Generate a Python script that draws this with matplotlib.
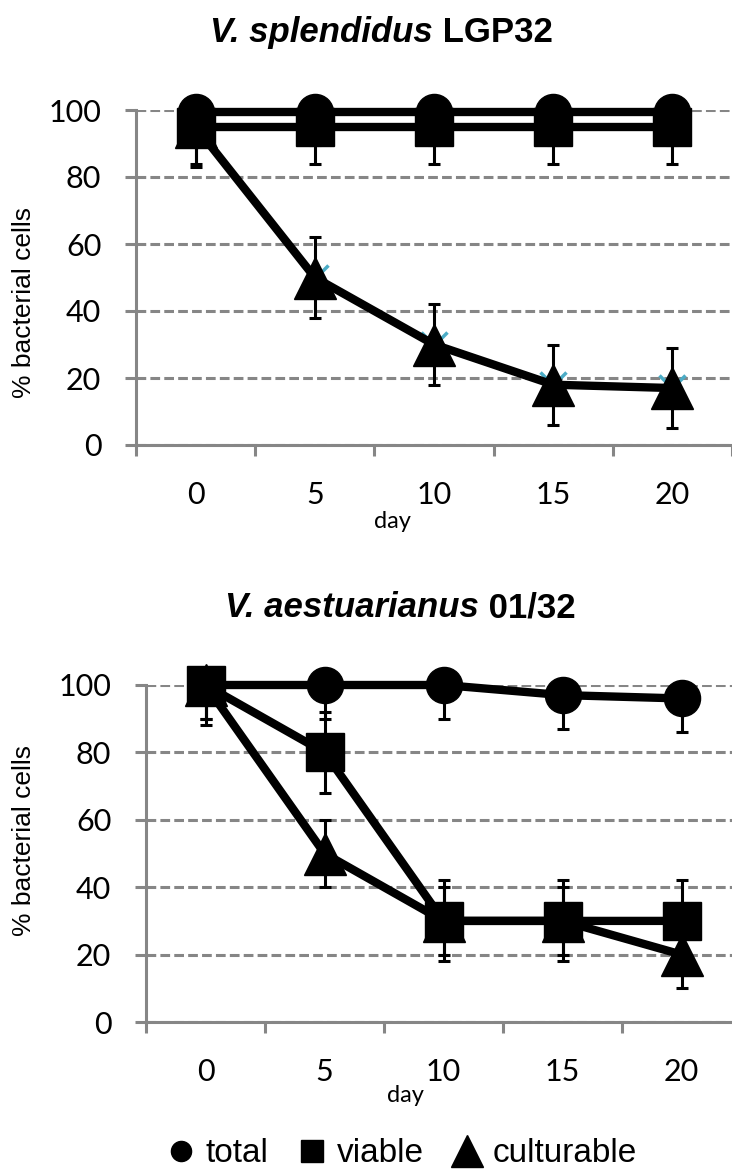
import numpy as np
import matplotlib
matplotlib.use("Agg")
import matplotlib.pyplot as plt
from matplotlib.lines import Line2D

# ---------------- data ----------------
days = ["0", "5", "10", "15", "20"]

# V. splendidus LGP32
spl_total = [99.5, 99.5, 99.5, 99.5, 99.5]
spl_total_err = [10, 10, 10, 10, 10]
spl_viable = [95, 95, 95, 95, 95]
spl_viable_err = [11, 11, 11, 11, 11]
spl_cult = [95, 50, 30, 18, 17]
spl_cult_err = [12, 12, 12, 12, 12]
spl_hidden = [95, 50, 30, 18, 17]   # teal series peeking behind triangles

# V. aestuarianus 01/32
aes_total = [100, 100, 100, 97, 96]
aes_total_err = [10, 10, 10, 10, 10]
aes_viable = [100, 80, 30, 30, 30]
aes_viable_err = [12, 12, 12, 12, 12]
aes_cult = [100, 50, 30, 30, 20]
aes_cult_err = [10, 10, 10, 10, 10]

series_labels = ["total", "viable", "culturable"]
yticks = [0, 20, 40, 60, 80, 100]

# ---------------- figure ----------------
plt.rcParams["font.family"] = ["Liberation Sans", "DejaVu Sans"]
plt.rcParams["lines.scale_dashes"] = False

W, H = 732, 1174
fig = plt.figure(figsize=(W / 100, H / 100), dpi=100)
fig.patch.set_facecolor("white")

GRAY = "#868686"
TEAL = "#4BACC6"


def px_axes(left, top, right, bottom):
    return fig.add_axes([left / W, 1 - bottom / H, (right - left) / W, (bottom - top) / H])


def style(ax):
    ax.set_xlim(-0.5, len(days) - 0.5)
    ax.set_ylim(0, 100)
    ax.set_yticks(yticks)
    ax.set_yticklabels([str(v) for v in yticks], family="Lato")
    ax.set_xticks(np.arange(-0.5, len(days), 1.0))
    ax.set_xticklabels([])
    ax.set_xticks(np.arange(len(days)), minor=True)
    ax.set_xticklabels(days, minor=True, family="Lato")
    ax.tick_params(axis="x", which="major", length=8, width=2.2, color=GRAY,
                   direction="out", labelbottom=False)
    ax.tick_params(axis="x", which="minor", length=0, pad=26, labelsize=22)
    ax.tick_params(axis="y", length=8, width=2.2, color=GRAY, direction="out",
                   pad=17, labelsize=22)
    for s in ["top", "right"]:
        ax.spines[s].set_visible(False)
    for s in ["left", "bottom"]:
        ax.spines[s].set_color(GRAY)
        ax.spines[s].set_linewidth(2.2)
    ax.set_axisbelow(True)
    ax.yaxis.grid(True, color=GRAY, lw=2.2, linestyle=(0, (7, 3)))
    ax.set_facecolor("none")


def draw_series(ax, vals, err, marker, ms, z):
    x = np.arange(len(days))
    ax.errorbar(x, vals, yerr=err, fmt="none", ecolor="k", elinewidth=2.2,
                capsize=4.3, capthick=2.2, zorder=z)
    ax.plot(x, vals, color="k", lw=6.0, marker=marker, ms=ms, mfc="k", mec="k",
            zorder=z + 0.1, clip_on=False)


ax1 = px_axes(136, 110, 732, 445)
ax2 = px_axes(146, 685, 741, 1022)
style(ax1)
style(ax2)

x = np.arange(len(days))
# top panel
draw_series(ax1, spl_total, spl_total_err, "o", 26, 3)
ax1.plot(x, spl_hidden, ls="none", marker="x", ms=19, mew=2.5, color=TEAL, zorder=3.5,
         clip_on=False)
draw_series(ax1, spl_cult, spl_cult_err, "^", 30, 4)
draw_series(ax1, spl_viable, spl_viable_err, "s", 27, 5)

# bottom panel
draw_series(ax2, aes_total, aes_total_err, "o", 26, 3)
draw_series(ax2, aes_cult, aes_cult_err, "^", 30, 4)
draw_series(ax2, aes_viable, aes_viable_err, "s", 27, 5)


# ---------------- titles ----------------
def title(ax, x_px, base_px, ital, rest):
    t1 = fig.text(x_px / W, 1 - base_px / H, ital, fontsize=25, fontweight="bold",
                  style="italic", ha="left", va="baseline")
    ax.annotate(rest, xy=(1, 0), xycoords=t1, ha="left", va="bottom", fontsize=25,
                fontweight="bold", annotation_clip=False)


title(ax1, 210, 42, "V. splendidus", " LGP32")
title(ax2, 225, 617, "V. aestuarianus", " 01/32")

# axis labels
fig.text(24 / W, 1 - 303 / H, "% bacterial cells", rotation=90, ha="center",
         va="center", fontsize=19)
fig.text(24 / W, 1 - 840 / H, "% bacterial cells", rotation=90, ha="center",
         va="center", fontsize=19)
fig.text(392 / W, 1 - 521 / H, "day", ha="center", va="center", fontsize=17, family="Lato")
fig.text(405 / W, 1 - 1096 / H, "day", ha="center", va="center", fontsize=17, family="Lato")

# legend
handles = [
    Line2D([], [], ls="none", marker="o", ms=14.5, color="k"),
    Line2D([], [], ls="none", marker="s", ms=16, color="k"),
    Line2D([], [], ls="none", marker="^", ms=23, color="k"),
]
fig.legend(handles, series_labels, loc="center", bbox_to_anchor=(402 / W, 1 - 1154 / H),
           ncol=3, frameon=False, fontsize=24, handlelength=0.8, handletextpad=0.35,
           columnspacing=0.9, borderpad=0, borderaxespad=0)

fig.savefig("out.png", dpi=100)
